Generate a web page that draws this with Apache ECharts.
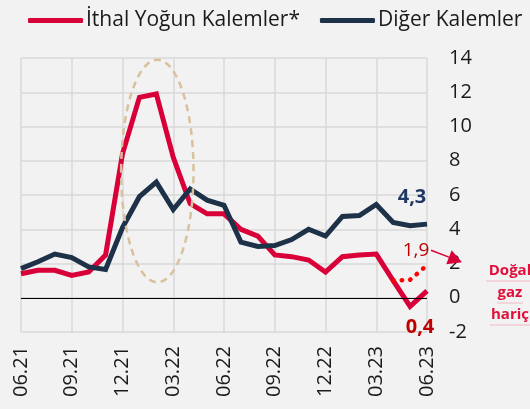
<!DOCTYPE html>
<html>
<head>
<meta charset="utf-8">
<script src="https://cdn.jsdelivr.net/npm/echarts@6/dist/echarts.min.js"></script>
<style>
  html, body { margin: 0; padding: 0; background: #f2f2f2; }
  #chart { width: 530px; height: 409px; }
</style>
</head>
<body>
<div id="chart"></div>
<script>
const months = [
  '06.21', '07.21', '08.21', '09.21', '10.21', '11.21', '12.21', '01.22', '02.22',
  '03.22', '04.22', '05.22', '06.22', '07.22', '08.22', '09.22', '10.22', '11.22',
  '12.22', '01.23', '02.23', '03.23', '04.23', '05.23', '06.23'
];
const ithalYogun = [
  1.4, 1.6, 1.6, 1.3, 1.5, 2.5, 8.4, 11.7, 11.9, 8.2, 5.5, 4.9, 4.9,
  4.0, 3.6, 2.5, 2.4, 2.2, 1.5, 2.4, 2.5, 2.55, 1.0, -0.5, 0.4
];
const digerKalemler = [
  1.7, 2.1, 2.55, 2.35, 1.8, 1.65, 4.1, 5.9, 6.75, 5.15, 6.35, 5.7, 5.4,
  3.25, 3.0, 3.05, 3.4, 4.0, 3.6, 4.75, 4.8, 5.45, 4.4, 4.2, 4.3
];
const dogalGazHaric = [
  null, null, null, null, null, null, null, null, null, null, null, null, null,
  null, null, null, null, null, null, null, null, null, 1.0, 1.05, 1.9
];
const yTicks = { min: -2, max: 14, step: 2 };
const noteLines = ['Doğal', 'gaz', 'hariç'];

const RED = '#d9003a';
const NAVY = '#1d3148';
const FONT = '"Open Sans", sans-serif';
const last = months.length - 1;

const chart = echarts.init(document.getElementById('chart'));

const option = {
  backgroundColor: '#f2f2f2',
  animation: false,
  textStyle: { fontFamily: FONT },
  legend: {
    left: 23,
    top: 5,
    itemWidth: 55,
    itemHeight: 5,
    itemGap: 20,
    textStyle: { fontSize: 21, color: '#1a1a1a', fontFamily: FONT, padding: [0, 0, 0, -2] },
    data: [
      { name: 'İthal Yoğun Kalemler*', icon: 'roundRect' },
      { name: 'Diğer Kalemler', icon: 'roundRect' }
    ]
  },
  grid: { left: 21, right: 103, top: 58, bottom: 77 },
  xAxis: {
    type: 'category',
    boundaryGap: false,
    data: months,
    axisLine: { show: true, lineStyle: { color: '#d9d9d9', width: 1.5 } },
    axisTick: { show: false },
    axisLabel: { interval: 2, rotate: 90, fontSize: 20, color: '#1a1a1a', margin: 14, fontFamily: FONT },
    splitLine: { show: true, interval: 2, lineStyle: { color: '#d9d9d9', width: 1.5 } }
  },
  yAxis: {
    type: 'value',
    position: 'right',
    min: yTicks.min,
    max: yTicks.max,
    interval: yTicks.step,
    axisLine: { show: false },
    axisTick: { show: false },
    axisLabel: { fontSize: 20, color: '#1a1a1a', margin: 22, fontFamily: FONT },
    splitLine: { lineStyle: { color: '#d9d9d9', width: 1.5 } }
  },
  series: [
    {
      name: 'İthal Yoğun Kalemler*',
      type: 'line',
      data: ithalYogun,
      symbol: 'none',
      color: RED,
      lineStyle: { width: 5, color: RED, join: 'miter' },
      markLine: {
        silent: true,
        symbol: 'none',
        label: { show: false },
        lineStyle: { color: '#000', width: 1, type: 'solid' },
        data: [{ yAxis: 0 }]
      },
      markPoint: {
        symbol: 'circle',
        symbolSize: 0,
        data: [{
          coord: [months[last], ithalYogun[last]],
          label: {
            show: true, position: 'inside', offset: [-7, 36],
            formatter: '0,4', color: '#c00000', fontSize: 20, fontWeight: 'bold', fontFamily: FONT
          }
        }]
      }
    },
    {
      name: 'Diğer Kalemler',
      type: 'line',
      data: digerKalemler,
      symbol: 'none',
      color: NAVY,
      lineStyle: { width: 5, color: NAVY, join: 'miter' },
      markPoint: {
        symbol: 'circle',
        symbolSize: 0,
        data: [{
          coord: [months[last], digerKalemler[last]],
          label: {
            show: true, position: 'inside', offset: [-15, -27],
            formatter: '4,3', color: '#1f3864', fontSize: 20, fontWeight: 'bold', fontFamily: FONT
          }
        }]
      }
    },
    {
      name: 'Doğal gaz hariç',
      type: 'line',
      data: dogalGazHaric,
      symbol: 'none',
      color: '#ff0000',
      lineStyle: { width: 4.5, color: '#ff0000', type: [0.5, 8], cap: 'round' },
      markPoint: {
        symbol: 'circle',
        symbolSize: 0,
        data: [{
          coord: [months[last], dogalGazHaric[last]],
          label: {
            show: true, position: 'inside', offset: [-11, -15],
            formatter: '1,9', color: '#c00000', fontSize: 19, fontFamily: FONT
          }
        }]
      }
    }
  ]
};

chart.setOption(option);

// annotations: dashed ellipse around the 2022 peak, arrow and side note
const ellCenter = chart.convertToPixel({ xAxisIndex: 0, yAxisIndex: 0 }, [months[8], 7.4]);
const ellEdge = chart.convertToPixel({ xAxisIndex: 0, yAxisIndex: 0 }, [months[10], 7.4 + 6.5]);
const rx = (ellEdge[0] - ellCenter[0]) * 1.07;
const ry = ellCenter[1] - ellEdge[1];
const endPt = chart.convertToPixel({ xAxisIndex: 0, yAxisIndex: 0 }, [months[last], dogalGazHaric[last]]);
const arrowStart = [endPt[0] + 4, endPt[1] - 15];
const arrowTip = [endPt[0] + 35, endPt[1] - 3];
const ang = Math.atan2(arrowTip[1] - arrowStart[1], arrowTip[0] - arrowStart[0]);
const headLen = 14, headW = 7.5;
const baseX = arrowTip[0] - headLen * Math.cos(ang), baseY = arrowTip[1] - headLen * Math.sin(ang);
const px = -Math.sin(ang) * headW, py = Math.cos(ang) * headW;

const noteWidths = [48, 26, 40];
const graphics = [
  {
    type: 'ellipse',
    shape: { cx: ellCenter[0] + 1, cy: ellCenter[1], rx: rx, ry: ry },
    style: { fill: 'none', stroke: '#d8c19c', lineWidth: 2.5, lineDash: [7, 5] },
    z: 5,
    silent: true
  },
  {
    type: 'line',
    shape: { x1: arrowStart[0], y1: arrowStart[1], x2: baseX, y2: baseY },
    style: { stroke: RED, lineWidth: 1.5 },
    z: 10
  },
  {
    type: 'polygon',
    shape: { points: [arrowTip, [baseX + px, baseY + py], [baseX - px, baseY - py]] },
    style: { fill: RED },
    z: 10
  }
];
noteLines.forEach((t, i) => {
  const cy = 271 + i * 22;
  graphics.push({
    type: 'line',
    shape: { x1: 510 - noteWidths[i] / 2, y1: cy + 10, x2: 510 + noteWidths[i] / 2, y2: cy + 10 },
    style: { stroke: '#f2b6c4', lineWidth: 1 },
    z: 9
  });
  graphics.push({
    type: 'text',
    style: {
      text: t, x: 510, y: cy, align: 'center', verticalAlign: 'middle',
      fill: '#e0103a', font: 'bold 15px "Open Sans", sans-serif'
    },
    z: 10
  });
});

chart.setOption({ graphic: graphics });
</script>
</body>
</html>
